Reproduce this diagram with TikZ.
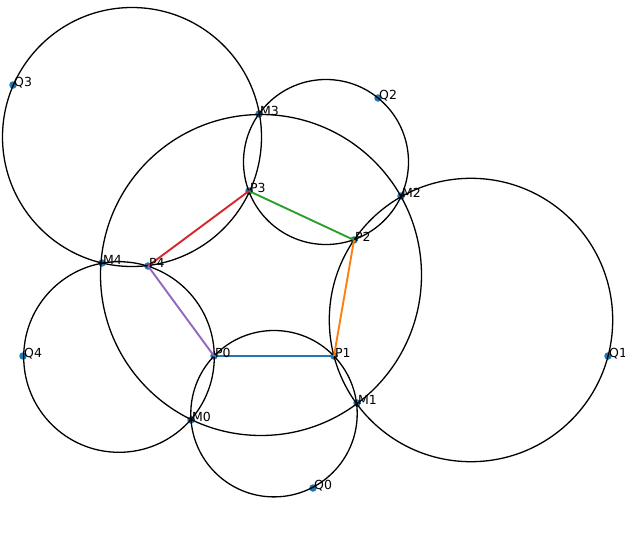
\documentclass[tikz,border=0pt]{standalone}
\usepackage{fontspec}
\setmainfont{DejaVu Sans}
\definecolor{mblue}{HTML}{1F77B4}
\definecolor{morange}{HTML}{FF7F0E}
\definecolor{mgreen}{HTML}{2CA02C}
\definecolor{mred}{HTML}{D62728}
\definecolor{mpurple}{HTML}{9467BD}
\tikzset{
  dot/.style={circle,fill=mblue,inner sep=0pt,minimum size=7.5pt},
  lbl/.style={anchor=base west,inner sep=0pt,font=\fontsize{12.5pt}{14pt}\selectfont},
  circ/.style={draw=black,line width=1.3pt},
  edge/.style={line width=1.9pt}
}
\begin{document}
\begin{tikzpicture}[x=1pt,y=-1pt]
\useasboundingbox (0,0) rectangle (625,560);
\clip (0,0) rectangle (625,560);
\fill[white] (0,0) rectangle (625,560);
% points
\foreach \n/\x/\y in {P0/214/356,P1/334/356,P2/354/240,P3/249/191,P4/148/266,
  M0/191/420,M1/357/403,M2/401/196,M3/259/114,M4/102/263,
  Q0/313/488,Q1/608/356,Q2/378/98,Q3/13/85,Q4/23/356}
  \node[dot] (\n) at (\x,\y) {};
% circles
\draw[circ] (261,275) circle[radius=160.5];
\draw[circ] (132,137) circle[radius=129.5];
\draw[circ] (326,162) circle[radius=82.5];
\draw[circ] (471,320) circle[radius=141.7];
\draw[circ] (274,413.7) circle[radius=83.2];
\draw[circ] (119,357) circle[radius=95.3];
% pentagon edges
\draw[edge,mblue] (P0.center) -- (P1.center);
\draw[edge,morange] (P1.center) -- (P2.center);
\draw[edge,mgreen] (P2.center) -- (P3.center);
\draw[edge,mred] (P3.center) -- (P4.center);
\draw[edge,mpurple] (P4.center) -- (P0.center);
% labels
\foreach \n in {P0,P1,P2,P3,P4,M0,M1,M2,M3,M4,Q0,Q1,Q2,Q3,Q4}
  \node[lbl] (l\n) at ([xshift=1pt,yshift=-1pt]\n.center) {\n};
\end{tikzpicture}
\end{document}
